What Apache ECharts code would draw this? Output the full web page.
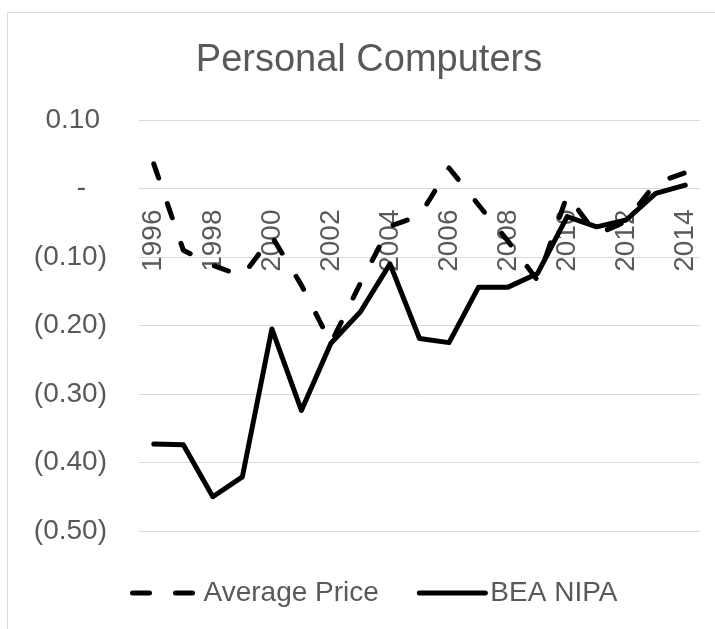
<!DOCTYPE html>
<html>
<head>
<meta charset="utf-8">
<script src="https://cdn.jsdelivr.net/npm/echarts@6/dist/echarts.min.js"></script>
<style>
html,body{margin:0;padding:0;background:#fff;}
#chart{width:715px;height:629px;}
</style>
</head>
<body>
<div id="chart"></div>
<script>
const years = ['1996','1997','1998','1999','2000','2001','2002','2003','2004','2005','2006','2007','2008','2009','2010','2011','2012','2013','2014'];
const averagePrice = [0.036,-0.090,-0.112,-0.128,-0.070,-0.141,-0.226,-0.138,-0.055,-0.040,0.030,-0.024,-0.077,-0.134,-0.010,-0.067,-0.048,0.008,0.023];
const beaNipa = [-0.373,-0.374,-0.450,-0.421,-0.205,-0.324,-0.226,-0.180,-0.110,-0.219,-0.225,-0.144,-0.144,-0.124,-0.041,-0.056,-0.046,-0.007,0.005];
const seriesNames = ['Average Price','BEA NIPA'];
const titleText = 'Personal Computers';
const yMin = -0.5, yMax = 0.1, yStep = 0.1;

const FONT = '"Liberation Sans", Arial, sans-serif';
const GRAY = '#595959';
const GRID = {left:139, top:120, width:561, height:411};
// place the category axis where the value axis crosses zero
const zeroOffset = -GRID.height * (0 - yMin) / (yMax - yMin);

const chart = echarts.init(document.getElementById('chart'), null, {renderer:'canvas'});
chart.setOption({
  backgroundColor:'#ffffff',
  animation:false,
  graphic:[{
    type:'rect', silent:true, z:-10,
    shape:{x:7.5,y:12.5,width:720,height:640},
    style:{fill:'none',stroke:'#d9d9d9',lineWidth:1}
  }],
  title:{
    text:titleText,
    left:364, top:37, textAlign:'center',
    textStyle:{fontFamily:FONT,fontSize:38,fontWeight:'normal',color:GRAY}
  },
  legend:{
    left:125, top:574,
    itemWidth:66, itemHeight:10, itemGap:38,
    textStyle:{fontFamily:FONT,fontSize:28,color:GRAY},
    data:[
      {name:seriesNames[0], itemStyle:{opacity:0}, lineStyle:{type:[17,26],width:5,cap:'round',color:'#000'}},
      {name:seriesNames[1], itemStyle:{opacity:0}, lineStyle:{type:'solid',width:5,color:'#000'}}
    ]
  },
  grid:{left:GRID.left,top:GRID.top,width:GRID.width,height:GRID.height,containLabel:false},
  xAxis:{
    type:'category',
    data:years,
    boundaryGap:true,
    offset:zeroOffset,
    axisLine:{show:true,onZero:false,lineStyle:{color:'#d9d9d9',width:1}},
    axisTick:{show:false},
    axisLabel:{interval:1,rotate:90,margin:21,fontFamily:FONT,fontSize:28,color:GRAY},
    splitLine:{show:false}
  },
  yAxis:{
    type:'value',
    min:yMin,max:yMax,interval:yStep,
    axisLine:{show:false},
    axisTick:{show:false},
    splitLine:{lineStyle:{color:'#d9d9d9',width:1}},
    axisLabel:{
      margin:32,fontFamily:FONT,fontSize:28,color:GRAY,
      formatter:function(v){
        if(Math.abs(v)<1e-9) return '{zero|-}';
        if(v>0) return '{pos|'+v.toFixed(2)+'}';
        return '('+Math.abs(v).toFixed(2)+')';
      },
      rich:{
        pos:{fontFamily:FONT,fontSize:28,color:GRAY,padding:[0,7,0,0]},
        zero:{fontFamily:FONT,fontSize:28,color:GRAY,padding:[0,21,0,0]}
      }
    }
  },
  series:[
    {
      name:seriesNames[0], type:'line', data:averagePrice,
      symbol:'none', z:3,
      itemStyle:{color:'#000'},
      lineStyle:{color:'#000',width:5,type:[15,27],cap:'round',join:'round'}
    },
    {
      name:seriesNames[1], type:'line', data:beaNipa,
      symbol:'none', z:3,
      itemStyle:{color:'#000'},
      lineStyle:{color:'#000',width:5,type:'solid',cap:'round',join:'round'}
    }
  ]
});
</script>
</body>
</html>
